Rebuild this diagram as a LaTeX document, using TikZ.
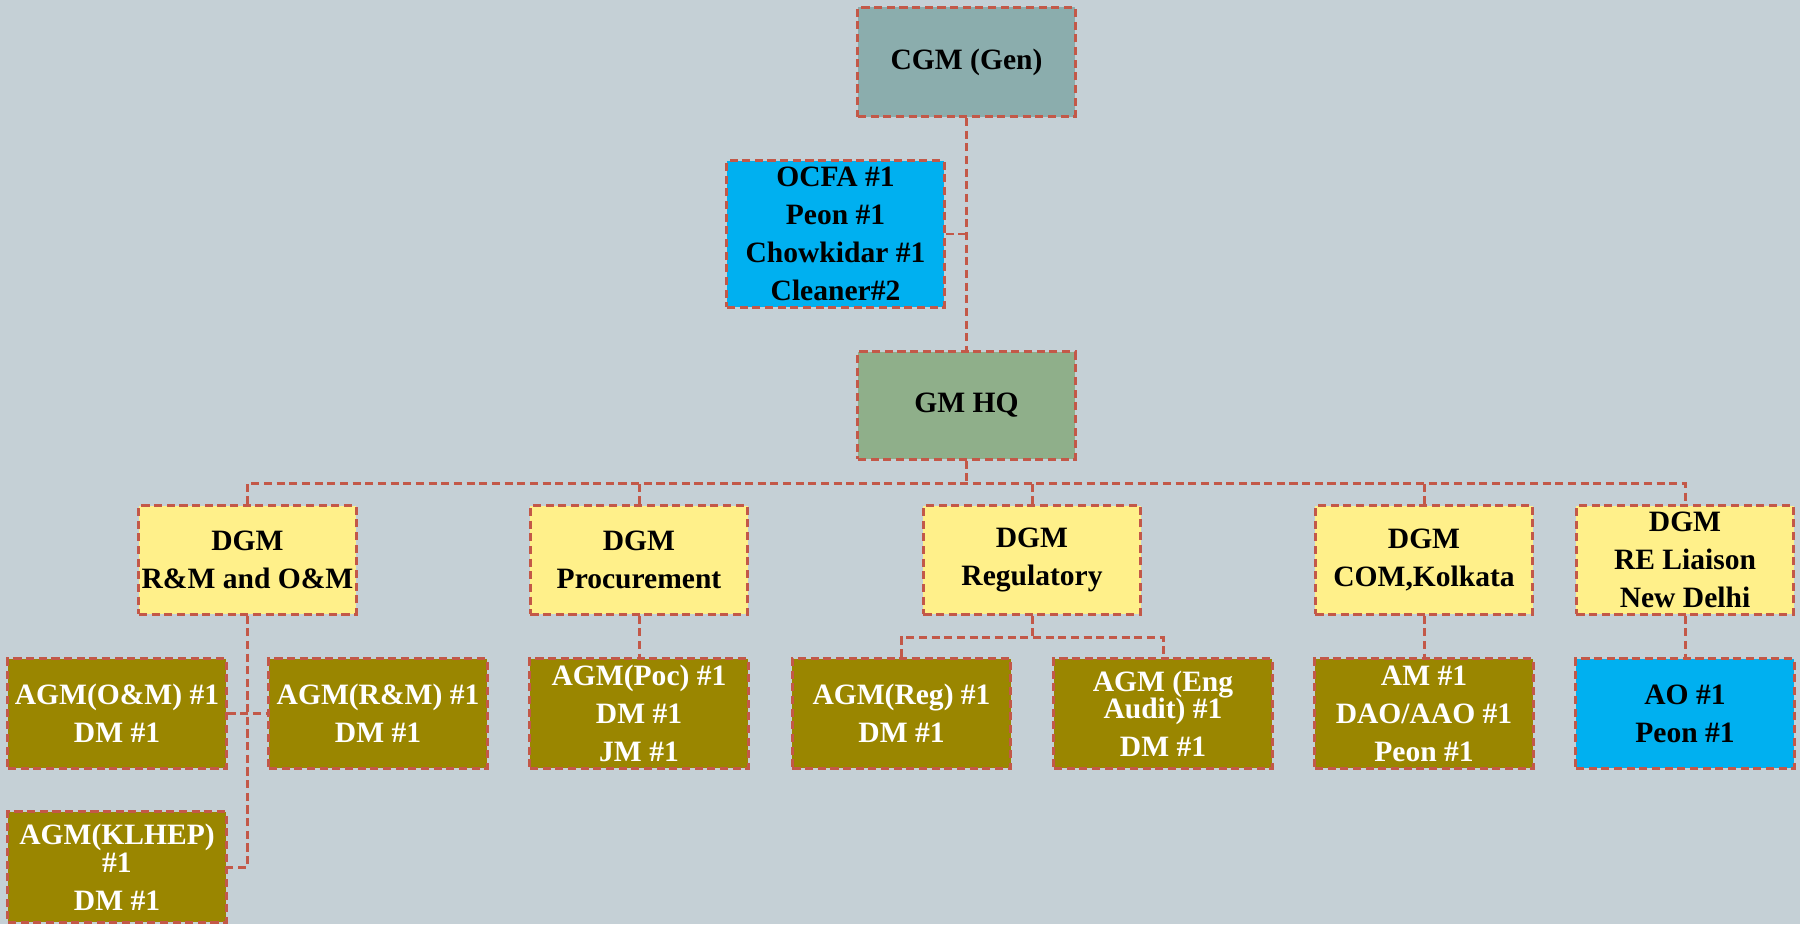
\documentclass[tikz,border=0pt]{standalone}
\usepackage{fontspec}
\setmainfont{Liberation Serif}
\usetikzlibrary{calc,positioning}
\definecolor{bgc}{RGB}{197,208,214}
\definecolor{edgec}{RGB}{195,88,72}
\definecolor{cgmc}{RGB}{139,173,173}
\definecolor{gmc}{RGB}{143,175,138}
\definecolor{dgmc}{RGB}{255,240,138}
\definecolor{agmc}{RGB}{154,134,0}
\definecolor{bluec}{RGB}{0,176,240}

\begin{document}
\begin{tikzpicture}[x=0.01cm,y=-0.01cm,
  box/.style={draw=edgec,line width=0.85pt,dash pattern=on 2.3pt off 1.3pt,minimum width=2.17cm,minimum height=1.09cm,inner sep=0pt,align=center,font=\fontsize{8.4}{10.8}\selectfont\bfseries},
  cgmbox/.style={box,fill=cgmc},
  gmbox/.style={box,fill=gmc,minimum height=1.07cm},
  dgmbox/.style={box,fill=dgmc,minimum height=1.08cm},
  agmbox/.style={box,fill=agmc,text=white,minimum width=2.18cm},
  staffbox/.style={box,fill=bluec},
  link/.style={draw=edgec,line width=0.85pt,dash pattern=on 2.3pt off 1.3pt}]
\fill[bgc] (0,0) rectangle (1800,924);
\useasboundingbox (0,0) rectangle (1800,924);
\node[cgmbox] (cgm) at (966.5,62) {CGM (Gen)};
\node[staffbox,minimum height=1.46cm] (ocfa) at (835.5,234) {OCFA \#1\\Peon \#1\\Chowkidar \#1\\Cleaner\#2};
\node[gmbox] (gmhq) at (966.5,405.5) {GM HQ};
\node[dgmbox] (dgmrm) at (247.5,560) {DGM\\R\&M and O\&M};
\node[dgmbox] (dgmpr) at (639,560) {DGM\\Procurement};
\node[dgmbox] (dgmreg) at (1032,560) {DGM\\Regulatory};
\node[dgmbox] (dgmcom) at (1424,560) {DGM\\COM,Kolkata};
\node[dgmbox] (dgmre) at (1685,560) {DGM\\RE Liaison\\New Delhi};
\node[agmbox] (agmom) at (117,713.5) {AGM(O\&M) \#1\\DM \#1};
\node[agmbox] (agmrm) at (378,713.5) {AGM(R\&M) \#1\\DM \#1};
\node[agmbox,minimum height=1.1cm] (klhep) at (117,867) {AGM(KLHEP)\\[-2.8pt]\#1\\DM \#1};
\node[agmbox] (agmpoc) at (639,713.5) {AGM(Poc) \#1\\DM \#1\\JM \#1};
\node[agmbox] (agmreg) at (901.5,713.5) {AGM(Reg) \#1\\DM \#1};
\node[agmbox] (agmeng) at (1163,713.5) {AGM (Eng\\[-3.2pt]Audit) \#1\\DM \#1};
\node[agmbox] (am) at (1424,713.5) {AM \#1\\DAO/AAO \#1\\Peon \#1};
\node[staffbox,minimum width=2.18cm] (ao) at (1685,713.5) {AO \#1\\Peon \#1};
\coordinate (bus) at (966.5,483);
\coordinate (regbus) at (1032,637);
\draw[link] (cgm.south) -- (gmhq.north);
\draw[link] (ocfa.east) -- (ocfa.east -| cgm.south);
\draw[link] (gmhq.south) -- (bus);
\draw[link] (dgmrm.north) |- (bus) -| (dgmre.north);
\draw[link] (dgmpr.north) -- (dgmpr.north |- bus);
\draw[link] (dgmreg.north) -- (dgmreg.north |- bus);
\draw[link] (dgmcom.north) -- (dgmcom.north |- bus);
\draw[link] (dgmrm.south) |- (klhep.east);
\draw[link] (agmom.east) -- (agmrm.west);
\draw[link] (dgmpr.south) -- (agmpoc.north);
\draw[link] (dgmreg.south) -- (regbus);
\draw[link] (agmreg.north) |- (regbus) -| (agmeng.north);
\draw[link] (dgmcom.south) -- (am.north);
\draw[link] (dgmre.south) -- (ao.north);
\end{tikzpicture}
\end{document}
